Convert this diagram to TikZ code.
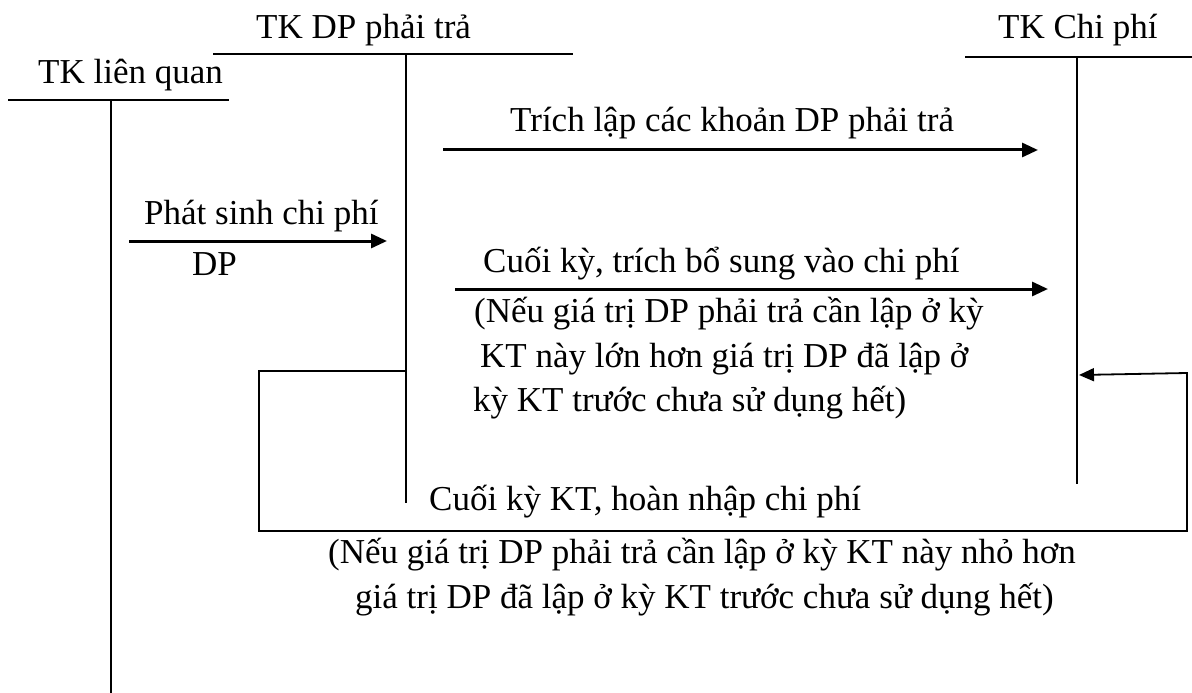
\documentclass[tikz,border=0pt]{standalone}
\usepackage{fontspec}
\setmainfont{Liberation Serif}
\usetikzlibrary{arrows.meta}
\begin{document}
\begin{tikzpicture}[x=1bp,y=-1bp,
  lbl/.style={inner sep=0pt, anchor=base west, font=\fontsize{35bp}{41bp}\selectfont},
  tline/.style={line width=2bp},
  tstem/.style={line width=1.6bp},
  flow/.style={line width=3bp, -{Triangle[length=16bp,width=14bp]}},
  loopline/.style={line width=1.8bp, -{Triangle[length=15bp,width=13bp]}}]
\useasboundingbox (0,0) rectangle (1192,693);

% T-account: TK liên quan
\coordinate (lqL) at (8,100);
\coordinate (lqR) at (229,100);
\coordinate (lqTop) at (111,100);
\coordinate (lqBot) at (111,693);
\node[lbl] (lqT) at (38,84) {TK liên quan};
\draw[tline] (lqL) -- (lqR);
\draw[tstem] (lqTop) -- (lqBot);

% T-account: TK DP phải trả
\coordinate (dpL) at (213,54);
\coordinate (dpR) at (573,54);
\coordinate (dpTop) at (406,54);
\coordinate (dpBot) at (406,503);
\node[lbl] (dpT) at (256,39) {TK DP phải trả};
\draw[tline] (dpL) -- (dpR);
\draw[tstem] (dpTop) -- (dpBot);

% T-account: TK Chi phí
\coordinate (cpL) at (965,57);
\coordinate (cpR) at (1192,57);
\coordinate (cpTop) at (1077,57);
\coordinate (cpBot) at (1077,484);
\node[lbl] (cpT) at (998,39) {TK Chi phí};
\draw[tline] (cpL) -- (cpR);
\draw[tstem] (cpTop) -- (cpBot);

% Provision booked to expense
\coordinate (a1s) at (443,150);
\coordinate (a1e) at (1038,150);
\draw[flow] (a1s) -- (a1e);
\node[lbl] (a1t) at (510,132) {Trích lập các khoản DP phải trả};

% Expense incurred against provision
\coordinate (a2s) at (129,241);
\coordinate (a2e) at (387,241);
\draw[flow] (a2s) -- (a2e);
\node[lbl] (a2t) at (144,225) {Phát sinh chi phí};
\node[lbl] (a2u) at (192,275) {DP};

% Additional provision at period end
\coordinate (a3s) at (455,289);
\coordinate (a3e) at (1048,289);
\draw[flow] (a3s) -- (a3e);
\node[lbl] (a3t) at (483,272) {Cuối kỳ, trích bổ sung vào chi phí};
\node[lbl] (a3n1) at (474,322) {(Nếu giá trị DP phải trả cần lập ở kỳ};
\node[lbl] (a3n2) at (480,367) {KT này lớn hơn giá trị DP đã lập ở};
\node[lbl] (a3n3) at (473,411) {kỳ KT trước chưa sử dụng hết)};

% Reversal of provision
\coordinate (r0) at (406,371);
\coordinate (r1) at (259,371);
\coordinate (r2) at (259,531);
\coordinate (r3) at (1187,531);
\coordinate (r4) at (1187,373);
\coordinate (r5) at (1079,375);
\draw[loopline] (r0) -- (r1) -- (r2) -- (r3) -- (r4) -- (r5);
\node[lbl] (rt) at (429,510) {Cuối kỳ KT, hoàn nhập chi phí};
\node[lbl] (rn1) at (328,563) {(Nếu giá trị DP phải trả cần lập ở kỳ KT này nhỏ hơn};
\node[lbl] (rn2) at (355,608) {giá trị DP đã lập ở kỳ KT trước chưa sử dụng hết)};
\end{tikzpicture}
\end{document}
